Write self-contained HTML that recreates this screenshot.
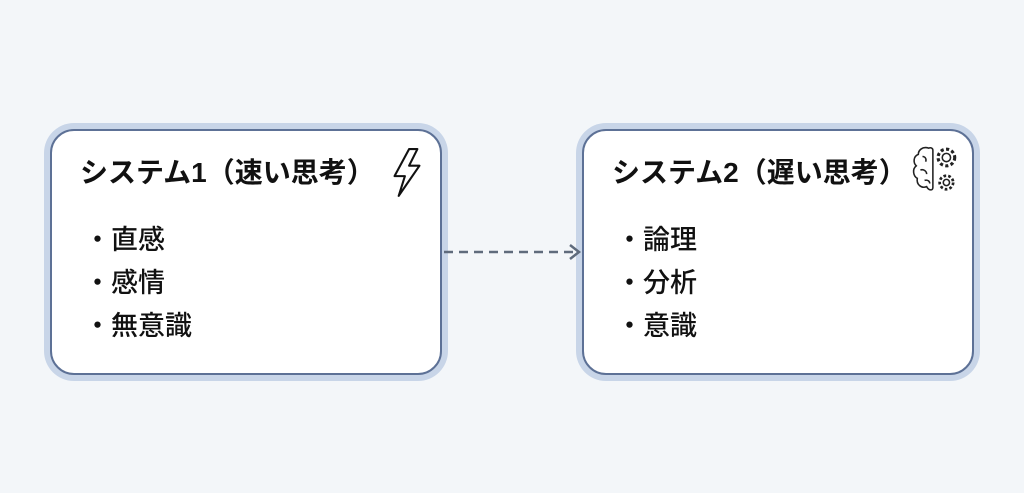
<!DOCTYPE html>
<html><head><meta charset="utf-8"><style>
body{margin:0;width:1024px;height:493px;background:#f3f6f9;position:relative;overflow:hidden;font-family:"Liberation Sans","Noto Sans CJK JP",sans-serif;color:#111}
.box{position:absolute;top:129px;width:388px;height:242px;background:#fff;border:2px solid #5d7196;border-radius:24px;box-shadow:0 0 0 6px #c8d5e8}
.t{position:absolute;left:28px;top:20px;font-size:28px;font-weight:bold;letter-spacing:0px;white-space:nowrap}
.l{position:absolute;left:32px;top:88px;font-size:27px;line-height:43px;font-weight:500}
.l span{display:inline-block;width:27px}
</style></head><body>
<div class="box" style="left:50px">
<div class="t">システム1（速い思考）</div>
<svg style="position:absolute;left:338px;top:16px" width="34" height="52" viewBox="0 0 32 50"><path d="M18 2 L4 28 L14 28 L8 47 L28 18 L18 18 L26 2 Z" fill="none" stroke="#111" stroke-width="2" stroke-linejoin="round"/></svg>
<div class="l"><div><span>・</span>直感</div><div><span>・</span>感情</div><div><span>・</span>無意識</div></div>
</div>
<div class="box" style="left:582px">
<div class="t">システム2（遅い思考）</div>
<svg style="position:absolute;left:326px;top:12px" width="52" height="54" viewBox="0 0 50 50" fill="none" stroke="#222" stroke-width="1.5">
<path d="M18 4 C12 2 8 6 8 10 C3 12 3 18 6 21 C2 24 3 31 7 33 C6 39 11 43 16 41 C18 45 22 45 22 42 L22 6 C22 4 20 3 18 4 Z"/>
<path d="M12 12 C15 12 16 15 15 17 M10 25 C13 24 16 26 16 29 M14 35 C17 34 19 36 19 38"/>
<circle cx="35" cy="13" r="4"/><circle cx="35" cy="13" r="8" stroke-dasharray="3 2.3" stroke-width="3"/>
<circle cx="35" cy="37" r="3"/><circle cx="35" cy="37" r="6.5" stroke-dasharray="2.6 2" stroke-width="2.6"/>
</svg>
<div class="l"><div><span>・</span>論理</div><div><span>・</span>分析</div><div><span>・</span>意識</div></div>
</div>
<svg style="position:absolute;left:440px;top:240px" width="145" height="24"><line x1="4" y1="12" x2="138" y2="12" stroke="#5f6b7c" stroke-width="2.5" stroke-dasharray="9 6"/><path d="M130 5 L139 12 L130 19" fill="none" stroke="#5f6b7c" stroke-width="2.5"/></svg>
</body></html>
